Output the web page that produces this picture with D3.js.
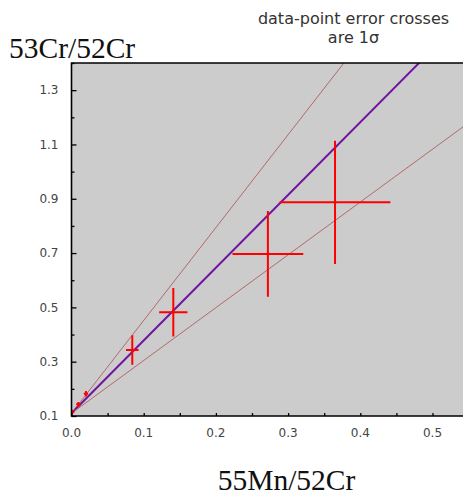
<!DOCTYPE html>
<html>
<head>
<meta charset="utf-8">
<script src="https://cdn.jsdelivr.net/npm/d3@7"></script>
<style>
  html, body { margin: 0; padding: 0; background: #fff; }
  svg { display: block; }
</style>
</head>
<body>
<svg id="chart" width="463" height="493"></svg>
<script>
// error-cross points (55Mn/52Cr, 53Cr/52Cr) with 1-sigma half widths
const ptX  = [0.002, 0.0095, 0.020, 0.0842, 0.141, 0.272, 0.365];
const ptY  = [0.116, 0.143, 0.182, 0.343, 0.482, 0.697, 0.887];
const errX = [0.002, 0.003, 0.003, 0.0087, 0.0196, 0.049, 0.0767];
const errY = [0.006, 0.009, 0.010, 0.054, 0.089, 0.158, 0.227];

// isochron lines: best fit and envelope
const lineNames = ['upper', 'best', 'lower'];
const lineIntercepts = [0.11, 0.11, 0.11];
const lineSlopes = [3.42, 2.68, 1.945];

const xTickLabels = [0.0, 0.1, 0.2, 0.3, 0.4, 0.5];
const yTickLabels = [0.1, 0.3, 0.5, 0.7, 0.9, 1.1, 1.3];

const bgColor = '#cccccc';
const crossColor = '#ff0000';
const envColor = '#b56868';
const bestColor = '#7015a0';
const tickTextColor = '#444';

const svg = d3.select('#chart');

const plotLeft = 71.5, plotTop = 63, plotBottom = 416;
const x = d3.scaleLinear().domain([0, 0.55]).range([plotLeft, plotLeft + 722 * 0.55]);
const y = d3.scaleLinear().domain([0.1, 1.4]).range([plotBottom, plotTop]);

svg.append('defs').append('clipPath').attr('id', 'plotClip')
  .append('rect')
  .attr('x', x(0)).attr('y', y(1.4))
  .attr('width', x(0.55) - x(0)).attr('height', y(0.1) - y(1.4));

// plot background
svg.append('rect')
  .attr('x', x(0)).attr('y', y(1.4))
  .attr('width', x(0.55) - x(0)).attr('height', y(0.1) - y(1.4))
  .attr('fill', bgColor);

const plot = svg.append('g').attr('clip-path', 'url(#plotClip)');

// lines
const lineData = lineNames.map((n, i) => ({
  name: n,
  pts: [0, 0.55].map(v => [v, lineIntercepts[i] + lineSlopes[i] * v])
}));
const lineGen = d3.line().x(d => x(d[0])).y(d => y(d[1]));

plot.selectAll('.fit')
  .data(lineData)
  .enter()
  .append('path')
  .attr('class', 'fit')
  .attr('fill', 'none')
  .attr('stroke', d => d.name === 'best' ? bestColor : envColor)
  .attr('stroke-width', d => d.name === 'best' ? 2 : 1)
  .attr('d', d => lineGen(d.pts));

// error crosses
const pts = ptX.map((v, i) => ({ x: v, y: ptY[i], ex: errX[i], ey: errY[i] }));

const crosses = plot.selectAll('.cross')
  .data(pts)
  .enter()
  .append('g')
  .attr('class', 'cross');

crosses.append('line')
  .attr('x1', d => x(d.x - d.ex)).attr('x2', d => x(d.x + d.ex))
  .attr('y1', d => y(d.y)).attr('y2', d => y(d.y))
  .attr('stroke', crossColor).attr('stroke-width', 2);

crosses.append('line')
  .attr('x1', d => x(d.x)).attr('x2', d => x(d.x))
  .attr('y1', d => y(d.y - d.ey)).attr('y2', d => y(d.y + d.ey))
  .attr('stroke', crossColor).attr('stroke-width', 2);

// axes (ticks inside)
const xAxis = svg.append('g')
  .attr('transform', `translate(0,${plotBottom})`)
  .call(d3.axisBottom(x)
    .tickValues(d3.range(0, 0.551, 0.05))
    .tickSizeInner(-3)
    .tickSizeOuter(0)
    .tickFormat(''));
xAxis.select('.domain').remove();
xAxis.selectAll('line').attr('stroke', '#000').attr('stroke-width', 1.3);

const yAxis = svg.append('g')
  .attr('transform', `translate(${plotLeft},0)`)
  .call(d3.axisLeft(y)
    .tickValues(d3.range(0.1, 1.41, 0.1))
    .tickSizeOuter(0)
    .tickFormat(''));
yAxis.select('.domain').remove();
yAxis.selectAll('.tick line')
  .attr('x2', (d, i) => i % 2 === 0 ? 5 : 3)
  .attr('stroke', '#000').attr('stroke-width', 1.3);

// frame: left, bottom, top
svg.append('path')
  .attr('d', `M${x(0.55)},${y(1.4)}H${x(0)}V${y(0.1)}H${x(0.55)}`)
  .attr('fill', 'none')
  .attr('stroke', '#000')
  .attr('stroke-width', 1.6);

// tick labels
svg.selectAll('.xlab')
  .data(xTickLabels)
  .enter()
  .append('text')
  .attr('class', 'xlab')
  .attr('x', d => x(d))
  .attr('y', 436.5)
  .attr('text-anchor', 'middle')
  .style('font-family', 'DejaVu Sans, Verdana, sans-serif')
  .style('font-size', '12px')
  .style('fill', tickTextColor)
  .text(d => d.toFixed(1));

svg.selectAll('.ylab')
  .data(yTickLabels)
  .enter()
  .append('text')
  .attr('class', 'ylab')
  .attr('x', 58.5)
  .attr('y', d => y(d))
  .attr('dy', '0.36em')
  .attr('text-anchor', 'end')
  .style('font-family', 'DejaVu Sans, Verdana, sans-serif')
  .style('font-size', '12px')
  .style('fill', tickTextColor)
  .text(d => d.toFixed(1));

// axis titles
svg.append('text')
  .attr('x', 9)
  .attr('y', 58)
  .style('font-family', 'Liberation Serif, Times New Roman, serif')
  .style('font-size', '29.5px')
  .style('fill', '#111')
  .text('53Cr/52Cr');

svg.append('text')
  .attr('x', 286.5)
  .attr('y', 490)
  .attr('text-anchor', 'middle')
  .style('font-family', 'Liberation Serif, Times New Roman, serif')
  .style('font-size', '29.5px')
  .style('fill', '#111')
  .text('55Mn/52Cr');

// note
const note = svg.append('text')
  .attr('text-anchor', 'middle')
  .style('font-family', 'DejaVu Sans, Verdana, sans-serif')
  .style('font-size', '16px')
  .style('fill', '#333');
note.append('tspan').attr('x', 353.5).attr('y', 23.5).text('data-point error crosses');
note.append('tspan').attr('x', 353.5).attr('y', 42.5).text('are 1σ');
</script>
</body>
</html>
